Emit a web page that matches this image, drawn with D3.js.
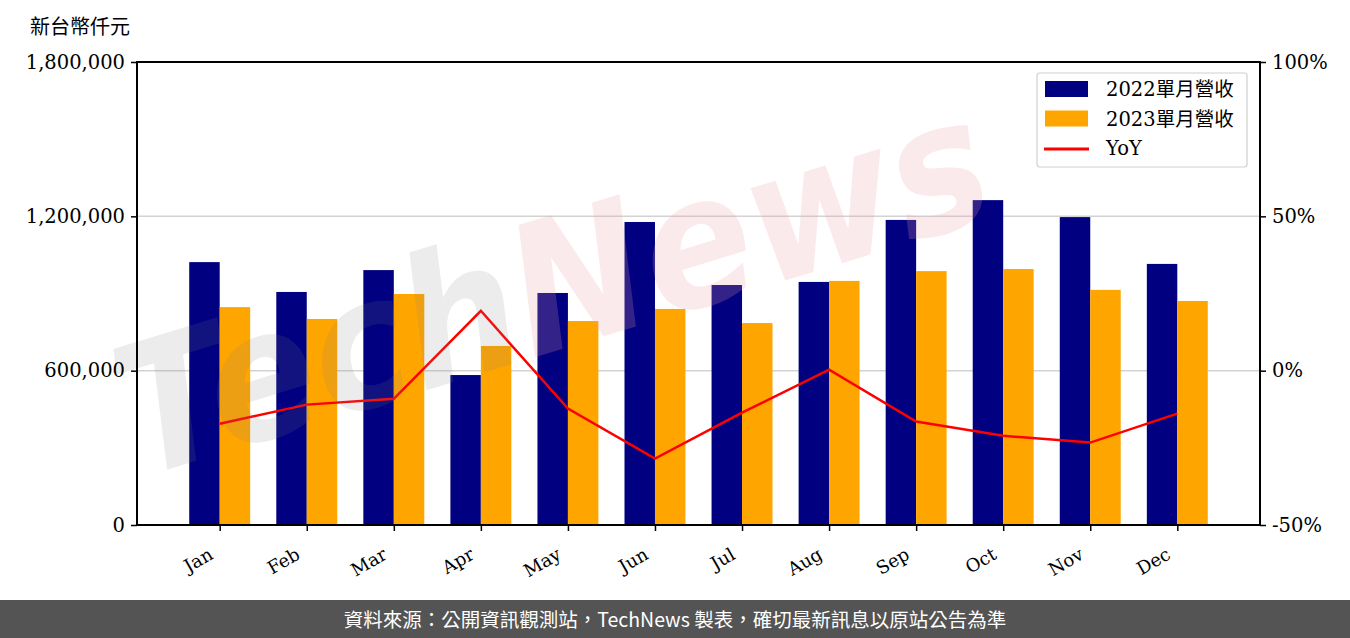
<!DOCTYPE html>
<html><head><meta charset="utf-8">
<script src="https://cdn.jsdelivr.net/npm/d3@7"></script>
<style>body{margin:0;background:#fff;}svg{display:block;}</style>
</head><body>
<svg id="c" width="1350" height="638"></svg>
<script>
const months = ["Jan","Feb","Mar","Apr","May","Jun","Jul","Aug","Sep","Oct","Nov","Dec"];
const rev2022 = [1022000, 906000, 991000, 583000, 902000, 1178000, 933000, 945000, 1186000, 1263000, 1197000, 1015000];
const rev2023 = [847000, 801000, 898000, 696000, 793000, 840000, 785000, 949000, 987000, 995000, 914000, 871000];
const yoy = [-17.2, -11.0, -9.1, 19.4, -12.3, -28.5, -13.6, 0.3, -16.5, -21.1, -23.3, -13.9];
const leftTicks = [0, 600000, 1200000, 1800000];
const rightTicks = [-50, 0, 50, 100];
const seriesNames = ["2022單月營收", "2023單月營收", "YoY"];

const svg = d3.select("#c");
const L = 137, R = 1260, T = 62, B = 525;
const serif = "'DejaVu Serif','Liberation Serif',serif";
const cjk = "'Noto Sans CJK TC','Noto Sans CJK SC',sans-serif";

const x = d3.scaleLinear().domain([-0.95, 11.95]).range([L, R]);
const y = d3.scaleLinear().domain([0, 1800000]).range([B, T]);
const y2 = d3.scaleLinear().domain([-50, 100]).range([B, T]);
const bw = (x(1) - x(0)) * 0.35;

// grid
svg.append("g").selectAll("line").data(leftTicks.filter(d => d > 0 && d < 1800000)).join("line")
  .attr("x1", L).attr("x2", R).attr("y1", d => y(d)).attr("y2", d => y(d))
  .attr("stroke", "#d3d3d3").attr("stroke-width", 1.5);

// bars
svg.append("g").selectAll("rect").data(rev2022).join("rect")
  .attr("x", (d, i) => x(i) - bw).attr("width", bw)
  .attr("y", d => y(d)).attr("height", d => B - y(d)).attr("fill", "#000080");
svg.append("g").selectAll("rect").data(rev2023).join("rect")
  .attr("x", (d, i) => x(i)).attr("width", bw)
  .attr("y", d => y(d)).attr("height", d => B - y(d)).attr("fill", "#FFA500");

// line
svg.append("path").datum(yoy)
  .attr("d", d3.line().x((d, i) => x(i)).y(d => y2(d)))
  .attr("fill", "none").attr("stroke", "#FF0000").attr("stroke-width", 2.5);

// watermark (translucent, over the plot)
const wm = svg.append("g").attr("transform", "translate(140,478) rotate(-17)").attr("pointer-events", "none");
const wt = wm.append("text").attr("x", 0).attr("y", 0)
  .attr("font-family", "'DejaVu Sans',sans-serif").attr("font-style", "italic").attr("font-weight", "bold")
  .attr("font-size", 180).attr("textLength", 900).attr("lengthAdjust", "spacingAndGlyphs");
wt.append("tspan").text("Tech").attr("fill", "#808080").attr("fill-opacity", 0.15);
wt.append("tspan").text("News").attr("fill", "#e8a0a8").attr("fill-opacity", 0.22);

// axes
const axL = svg.append("g").attr("transform", `translate(${L},0)`)
  .call(d3.axisLeft(y).tickValues(leftTicks).tickFormat(d3.format(",")).tickSizeOuter(0).tickSize(6).tickPadding(6));
const axR = svg.append("g").attr("transform", `translate(${R},0)`)
  .call(d3.axisRight(y2).tickValues(rightTicks).tickFormat(d => d + "%").tickSizeOuter(0).tickSize(6).tickPadding(6));
const axB = svg.append("g").attr("transform", `translate(0,${B})`)
  .call(d3.axisBottom(x).tickValues(d3.range(12)).tickFormat(i => months[i]).tickSizeOuter(0).tickSize(6));
[axL, axR, axB].forEach(a => {
  a.selectAll("path.domain").remove();
  a.selectAll("line").attr("stroke", "#000").attr("stroke-width", 1.5);
  a.selectAll("text").attr("font-family", serif).attr("font-size", 19.5).attr("fill", "#000");
});
axB.selectAll("text").attr("font-size", 18).attr("text-anchor", "end")
  .attr("y", 0).attr("dy", 0)
  .attr("transform", "translate(-6,33) rotate(-30)");
// frame
svg.append("rect").attr("x", L).attr("y", T).attr("width", R - L).attr("height", B - T)
  .attr("fill", "none").attr("stroke", "#000").attr("stroke-width", 2);

// unit label
svg.append("text").text("新台幣仟元").attr("x", 30).attr("y", 34)
  .attr("font-family", cjk).attr("font-size", 20).attr("fill", "#000");

// legend
const lg = svg.append("g");
lg.append("rect").attr("x", 1037).attr("y", 73).attr("width", 210).attr("height", 94).attr("rx", 3)
  .attr("fill", "#fff").attr("fill-opacity", 0.8).attr("stroke", "#d0d0d0").attr("stroke-width", 1.2);
const colors = ["#000080", "#FFA500", "#FF0000"];
seriesNames.forEach((n, i) => {
  const cy = 89 + i * 29.5;
  if (i < 2) lg.append("rect").attr("x", 1045).attr("y", cy - 8).attr("width", 43).attr("height", 16).attr("fill", colors[i]);
  else lg.append("line").attr("x1", 1044).attr("x2", 1089).attr("y1", cy + 1).attr("y2", cy + 1).attr("stroke", colors[i]).attr("stroke-width", 3);
  lg.append("text").text(n).attr("x", 1106).attr("y", cy + 7)
    .attr("font-family", "'DejaVu Serif','Noto Sans CJK TC',serif").attr("font-size", 19.5).attr("fill", "#000");
});

// footer
svg.append("rect").attr("x", 0).attr("y", 600).attr("width", 1350).attr("height", 38).attr("fill", "#545454");
svg.append("text").text("資料來源：公開資訊觀測站，TechNews 製表，確切最新訊息以原站公告為準")
  .attr("x", 675).attr("y", 627).attr("text-anchor", "middle")
  .attr("font-family", cjk).attr("font-size", 19.5).attr("fill", "#fff");
</script>
</body></html>
